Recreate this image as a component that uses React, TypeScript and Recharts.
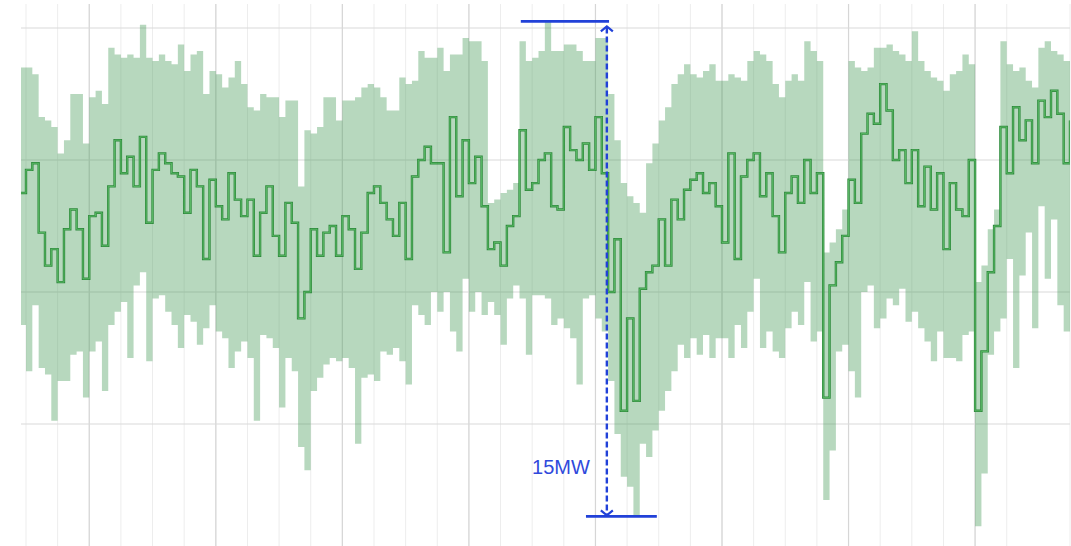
import React from "react";
import {
  ComposedChart,
  Area,
  Line,
  XAxis,
  YAxis,
  CartesianGrid,
  ReferenceLine,
} from "recharts";

// one sample every time step, first step is t = -1
const T_START = -1;

// upper envelope (MW)
const maxVals = [
  18.8, 18.8, 18.6, 17.3, 17.2, 17.0, 16.2, 16.6, 18.0, 18.0, 16.5, 17.9, 18.1, 17.7, 19.4, 19.2, 19.1, 19.2, 19.1, 20.1,
  19.1, 19.0, 19.2, 19.0, 18.9, 19.5, 18.7, 19.2, 19.3, 18.0, 18.7, 18.6, 18.2, 18.5, 19.0, 18.3, 17.6, 17.5, 18.0, 17.9,
  17.9, 17.3, 17.8, 17.8, 15.2, 16.9, 16.8, 17.0, 17.9, 17.9, 17.2, 17.8, 17.8, 17.9, 18.2, 18.3, 18.2, 17.9, 17.5, 17.5,
  18.5, 18.3, 18.4, 19.3, 19.1, 19.1, 19.4, 18.7, 19.2, 19.2, 19.7, 19.6, 19.6, 19.0, 14.7, 14.8, 15.0, 15.1, 15.3, 19.6,
  19.0, 19.1, 19.3, 20.2, 19.3, 19.3, 19.5, 19.5, 19.3, 19.0, 19.0, 19.7, 19.7, 18.0, 16.6, 15.3, 14.9, 14.7, 14.4, 15.9,
  16.5, 17.2, 17.6, 18.3, 18.6, 18.9, 18.6, 18.5, 18.7, 18.9, 18.4, 18.4, 18.6, 18.5, 18.4, 19.0, 19.3, 19.2, 19.0, 18.3,
  17.9, 18.4, 18.6, 18.4, 19.6, 19.3, 19.0, 13.2, 13.5, 13.9, 14.5, 19.0, 18.8, 18.7, 18.8, 19.4, 19.4, 19.5, 19.3, 19.2,
  19.0, 19.9, 19.0, 18.7, 18.5, 18.4, 18.1, 18.6, 18.7, 19.2, 18.9, 12.3, 12.8, 13.9, 14.5, 19.6, 18.9, 18.7, 18.8, 18.4,
  18.2, 19.4, 19.6, 19.3, 19.2, 19.0, 19.1,
];

// mean (MW)
const meanVals = [
  15.0, 15.7, 15.9, 13.8, 12.8, 13.3, 12.3, 13.9, 14.5, 13.9, 12.4, 14.3, 14.4, 13.4, 15.2, 16.6, 15.6, 16.1, 15.2, 16.7,
  14.1, 15.7, 16.2, 15.9, 15.6, 15.5, 14.4, 15.7, 15.2, 13.0, 15.4, 14.6, 14.2, 15.6, 14.8, 14.3, 14.8, 13.1, 14.4, 15.2,
  13.7, 13.1, 14.7, 14.1, 11.2, 12.0, 13.9, 13.1, 13.8, 14.0, 13.1, 14.3, 13.9, 12.7, 13.8, 15.0, 15.2, 14.7, 14.2, 13.7,
  14.7, 13.0, 15.5, 16.0, 16.4, 15.9, 15.9, 13.2, 17.3, 14.9, 16.6, 15.3, 16.1, 14.6, 13.3, 13.5, 12.8, 14.0, 14.3, 16.9,
  15.1, 15.3, 16.0, 16.2, 14.6, 14.5, 17.0, 16.3, 16.0, 16.5, 15.7, 17.3, 15.6, 12.0, 13.6, 8.4, 11.2, 8.7, 12.1, 12.6,
  12.8, 14.2, 12.8, 14.8, 14.2, 15.1, 15.4, 15.6, 15.0, 15.3, 14.6, 13.5, 16.2, 13.0, 15.5, 16.0, 16.2, 14.9, 15.6, 14.3,
  13.2, 15.0, 15.5, 14.7, 16.0, 15.0, 15.6, 8.8, 12.2, 12.9, 13.7, 15.4, 14.7, 16.8, 17.4, 17.1, 18.3, 17.5, 16.0, 16.3,
  15.3, 16.3, 14.6, 15.8, 14.5, 15.6, 13.3, 15.3, 14.5, 14.3, 16.0, 8.4, 10.2, 12.6, 14.0, 17.0, 15.6, 17.6, 16.6, 17.2,
  15.9, 17.8, 17.3, 18.1, 17.4, 15.9, 17.2,
];

// lower envelope (MW)
const minVals = [
  11.0, 9.6, 11.6, 9.7, 9.5, 8.1, 9.3, 9.3, 10.1, 10.2, 8.8, 10.2, 10.5, 9.0, 11.0, 11.4, 11.7, 10.0, 12.2, 12.6,
  9.9, 11.8, 11.9, 11.4, 11.0, 10.3, 11.3, 11.1, 10.4, 10.9, 11.6, 10.8, 10.6, 9.7, 10.2, 10.5, 10.0, 8.1, 10.7, 10.6,
  10.3, 8.5, 10.0, 9.6, 7.3, 6.6, 9.0, 9.4, 9.8, 10.0, 9.9, 10.0, 9.7, 7.4, 9.4, 9.5, 9.3, 10.2, 10.1, 10.3,
  9.9, 9.2, 11.6, 11.3, 11.0, 12.0, 11.4, 12.0, 10.8, 10.2, 12.4, 11.4, 12.0, 11.3, 11.7, 11.3, 10.4, 11.8, 12.2, 11.8,
  10.1, 11.9, 11.9, 11.8, 11.0, 11.2, 10.9, 10.6, 9.2, 11.8, 11.9, 11.2, 10.8, 9.3, 7.7, 6.4, 6.1, 5.2, 7.4, 7.0,
  7.8, 8.4, 9.0, 9.6, 10.4, 10.0, 10.6, 10.1, 10.7, 10.0, 10.6, 10.6, 10.0, 11.0, 10.3, 11.4, 12.4, 10.3, 10.8, 10.2,
  10.0, 10.9, 11.4, 11.0, 12.3, 10.5, 10.8, 5.7, 7.2, 10.2, 10.4, 9.6, 8.8, 12.0, 12.2, 10.9, 11.2, 11.8, 11.6, 12.1,
  11.1, 11.4, 10.9, 10.5, 9.9, 10.8, 10.0, 10.0, 9.9, 10.7, 10.8, 4.9, 6.5, 10.1, 10.8, 11.2, 13.0, 9.7, 12.5, 13.8,
  10.9, 14.6, 12.4, 14.2, 11.6, 10.8, 10.8,
];

const Y_TICKS = [8, 12, 16, 20];
const Y_DOMAIN = [4.303, 20.727];
const X_DOMAIN = [-0.79, 165];
const MINOR_TICKS = Array.from({ length: 34 }, (_, k) => k * 5);
const MAJOR_TICKS = [10, 30, 50, 70, 90, 110, 130, 150];

// the swing that is marked on the chart
const EVENT_FROM = 78;
const EVENT_TO = 100;
const TOP_BAR = [78.2, 92.15];
const BOTTOM_BAR = [88.5, 99.7];
const ARROW_T = 91.8;

const BLUE = "#2141d8";

const rows = maxVals.map((hi, i) => ({
  t: T_START + i,
  range: [minVals[i], hi],
  mean: meanVals[i],
}));

const eventRows = rows.filter((r) => r.t >= EVENT_FROM && r.t <= EVENT_TO);
const eventHigh = Math.max(...eventRows.map((r) => r.range[1]));
const eventLow = Math.min(...eventRows.map((r) => r.range[0]));
const eventLabel = `${Math.round(eventHigh - eventLow)}MW`;

function ArrowShape(props: any) {
  const { x1, y1, y2, label } = props;
  const top = Math.min(y1, y2);
  const bottom = Math.max(y1, y2);
  return (
    <g>
      <line
        x1={x1}
        y1={top + 6}
        x2={x1}
        y2={bottom - 2}
        stroke={BLUE}
        strokeWidth={2.4}
        strokeDasharray="6 3"
      />
      <polyline
        points={`${x1 - 6},${top + 10} ${x1},${top + 5} ${x1 + 6},${top + 10}`}
        fill="none"
        stroke={BLUE}
        strokeWidth={2.2}
      />
      <polyline
        points={`${x1 - 6},${bottom - 6} ${x1},${bottom - 1} ${x1 + 6},${bottom - 6}`}
        fill="none"
        stroke={BLUE}
        strokeWidth={2.2}
      />
      <text
        x={x1 - 17}
        y={bottom - 49}
        textAnchor="end"
        dominantBaseline="central"
        fontSize={20}
        fontFamily="'Liberation Sans', Arial, sans-serif"
        fill="#3049dc"
      >
        {label}
      </text>
    </g>
  );
}

export default function App() {
  return (
    <div
      style={{
        position: "absolute",
        left: 0,
        top: 0,
        width: 1071,
        height: 546,
        overflow: "hidden",
        background: "#fff",
      }}
    >
      <ComposedChart
        width={1071}
        height={546}
        data={rows}
        margin={{ top: 4, right: 1, left: 21, bottom: 0 }}
      >
        <XAxis type="number" dataKey="t" domain={X_DOMAIN} allowDataOverflow ticks={MINOR_TICKS} hide />
        <XAxis
          xAxisId="major"
          type="number"
          dataKey="t"
          domain={X_DOMAIN}
          allowDataOverflow
          ticks={MAJOR_TICKS}
          hide
        />
        <YAxis type="number" domain={Y_DOMAIN} allowDataOverflow ticks={Y_TICKS} hide />
        <CartesianGrid horizontal={false} syncWithTicks stroke="#ededed" strokeWidth={1} />
        <CartesianGrid xAxisId="major" horizontal={false} syncWithTicks stroke="#d6d6d6" strokeWidth={1.2} />
        <CartesianGrid vertical={false} syncWithTicks stroke="#dadada" strokeWidth={1.2} />
        <Area
          type="stepAfter"
          dataKey="range"
          stroke="none"
          fill="#4a9e5c"
          fillOpacity={0.4}
          isAnimationActive={false}
        />
        <Line
          type="stepAfter"
          dataKey="mean"
          stroke="#2f8a3d"
          strokeWidth={2.4}
          dot={false}
          isAnimationActive={false}
        />
        <Line
          type="stepAfter"
          dataKey="mean"
          stroke="#5dbd69"
          strokeWidth={0.9}
          dot={false}
          isAnimationActive={false}
        />
        <ReferenceLine
          segment={[
            { x: TOP_BAR[0], y: eventHigh },
            { x: TOP_BAR[1], y: eventHigh },
          ]}
          stroke={BLUE}
          strokeWidth={2.6}
        />
        <ReferenceLine
          segment={[
            { x: BOTTOM_BAR[0], y: eventLow },
            { x: BOTTOM_BAR[1], y: eventLow },
          ]}
          stroke={BLUE}
          strokeWidth={2.6}
        />
        <ReferenceLine
          segment={[
            { x: ARROW_T, y: eventHigh },
            { x: ARROW_T, y: eventLow },
          ]}
          shape={(p: any) => <ArrowShape {...p} label={eventLabel} />}
        />
      </ComposedChart>
    </div>
  );
}
